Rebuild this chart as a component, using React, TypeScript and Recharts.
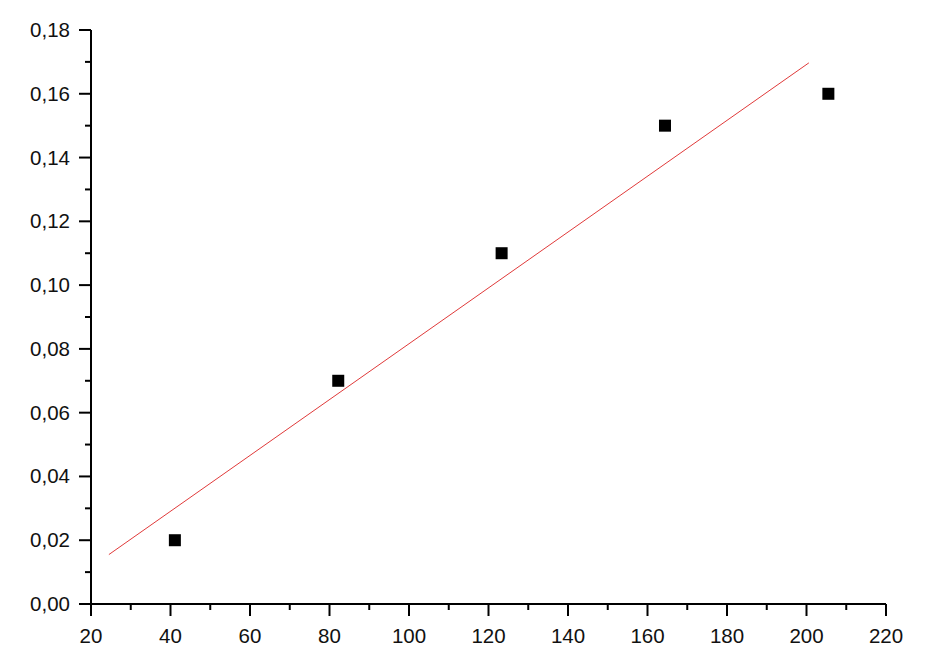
import { ScatterChart, Scatter, XAxis, YAxis } from 'recharts';

// measured points
const xValues = [41.1, 82.2, 123.3, 164.4, 205.5];
const yValues = [0.02, 0.07, 0.11, 0.15, 0.16];

// fitted line endpoints
const fitX = [24.5, 200.6];
const fitY = [0.0155, 0.1697];

const xTicks = [20, 30, 40, 50, 60, 70, 80, 90, 100, 110, 120, 130, 140, 150, 160, 170, 180, 190, 200, 210, 220];
const xMajor = [20, 40, 60, 80, 100, 120, 140, 160, 180, 200, 220];
const yTicks = [0, 0.01, 0.02, 0.03, 0.04, 0.05, 0.06, 0.07, 0.08, 0.09, 0.1, 0.11, 0.12, 0.13, 0.14, 0.15, 0.16, 0.17, 0.18];
const yMajor = [0, 0.02, 0.04, 0.06, 0.08, 0.1, 0.12, 0.14, 0.16, 0.18];

const points = xValues.map((x, i) => ({ x, y: yValues[i] }));
const fitLine = fitX.map((x, i) => ({ x, y: fitY[i] }));

const FONT = '"Liberation Sans", Arial, sans-serif';

const isMajor = (list: number[], v: number) => list.some((m) => Math.abs(m - v) < 1e-9);

function XTick({ x, y, payload }: any) {
  const major = isMajor(xMajor, payload.value);
  return (
    <g>
      <line x1={x} x2={x} y1={y} y2={y + (major ? 12 : 6)} stroke="#000" strokeWidth={2} />
      {major && (
        <text x={x} y={y + 39} textAnchor="middle" fontSize={20.5} fontFamily={FONT} fill="#111">
          {payload.value}
        </text>
      )}
    </g>
  );
}

function YTick({ x, y, payload }: any) {
  const major = isMajor(yMajor, payload.value);
  return (
    <g>
      <line x1={x} x2={x - (major ? 12 : 6)} y1={y} y2={y} stroke="#000" strokeWidth={2} />
      {major && (
        <text x={x - 21} y={y + 7} textAnchor="end" fontSize={20.5} fontFamily={FONT} fill="#111">
          {payload.value.toFixed(2).replace('.', ',')}
        </text>
      )}
    </g>
  );
}

function SquareDot({ cx, cy }: any) {
  return <rect x={cx - 6} y={cy - 6} width={12} height={12} fill="#000" />;
}

export default function App() {
  return (
    <ScatterChart width={927} height={654} margin={{ top: 22, right: 49, bottom: 18, left: 0 }}>
      <XAxis
        type="number"
        dataKey="x"
        domain={[20, 220]}
        ticks={xTicks}
        interval={0}
        allowDataOverflow
        tickSize={0}
        tickMargin={0}
        tickLine={false}
        height={40}
        axisLine={{ stroke: '#000', strokeWidth: 2 }}
        tick={<XTick />}
      />
      <YAxis
        type="number"
        dataKey="y"
        domain={[0, 0.18]}
        ticks={yTicks}
        interval={0}
        allowDataOverflow
        tickSize={0}
        tickMargin={0}
        tickLine={false}
        width={83}
        axisLine={{ stroke: '#000', strokeWidth: 2 }}
        tick={<YTick />}
      />
      <Scatter
        data={fitLine}
        line={{ stroke: '#e03a3a', strokeWidth: 1 }}
        shape={() => <g />}
        isAnimationActive={false}
      />
      <Scatter data={points} shape={<SquareDot />} isAnimationActive={false} />
    </ScatterChart>
  );
}
